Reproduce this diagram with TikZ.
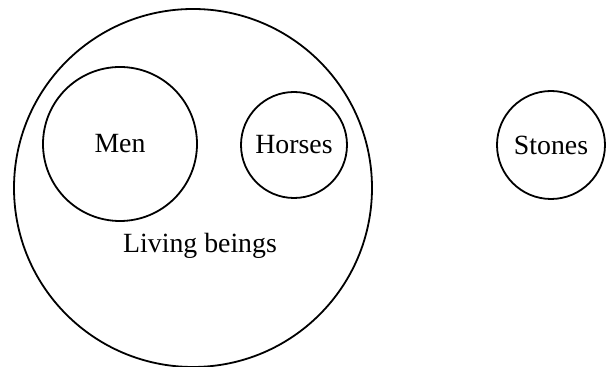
\documentclass[tikz,border=0pt]{standalone}
\usepackage{fontspec}
\setmainfont{Liberation Serif}
\usepackage{tikz}
\usetikzlibrary{positioning}

\begin{document}
\begin{tikzpicture}[x=0.5pt, y=-0.5pt,
  font=\fontsize{13.9}{16}\selectfont,
  set/.style={draw, circle, line width=0.9pt, inner sep=0pt},
  node distance=5mm]
\useasboundingbox (0,0) rectangle (607,367);
\node[set, minimum size=179pt] (living) at (193,188) {};
\node[set, minimum size=77pt] (men) at (120,144) {Men};
\node[set, minimum size=53pt] (horses) at (294,145) {Horses};
\node[set, minimum size=54pt] (stones) at (551,145) {Stones};
\node (livinglabel) at (200,246) {Living beings};
\end{tikzpicture}
\end{document}
